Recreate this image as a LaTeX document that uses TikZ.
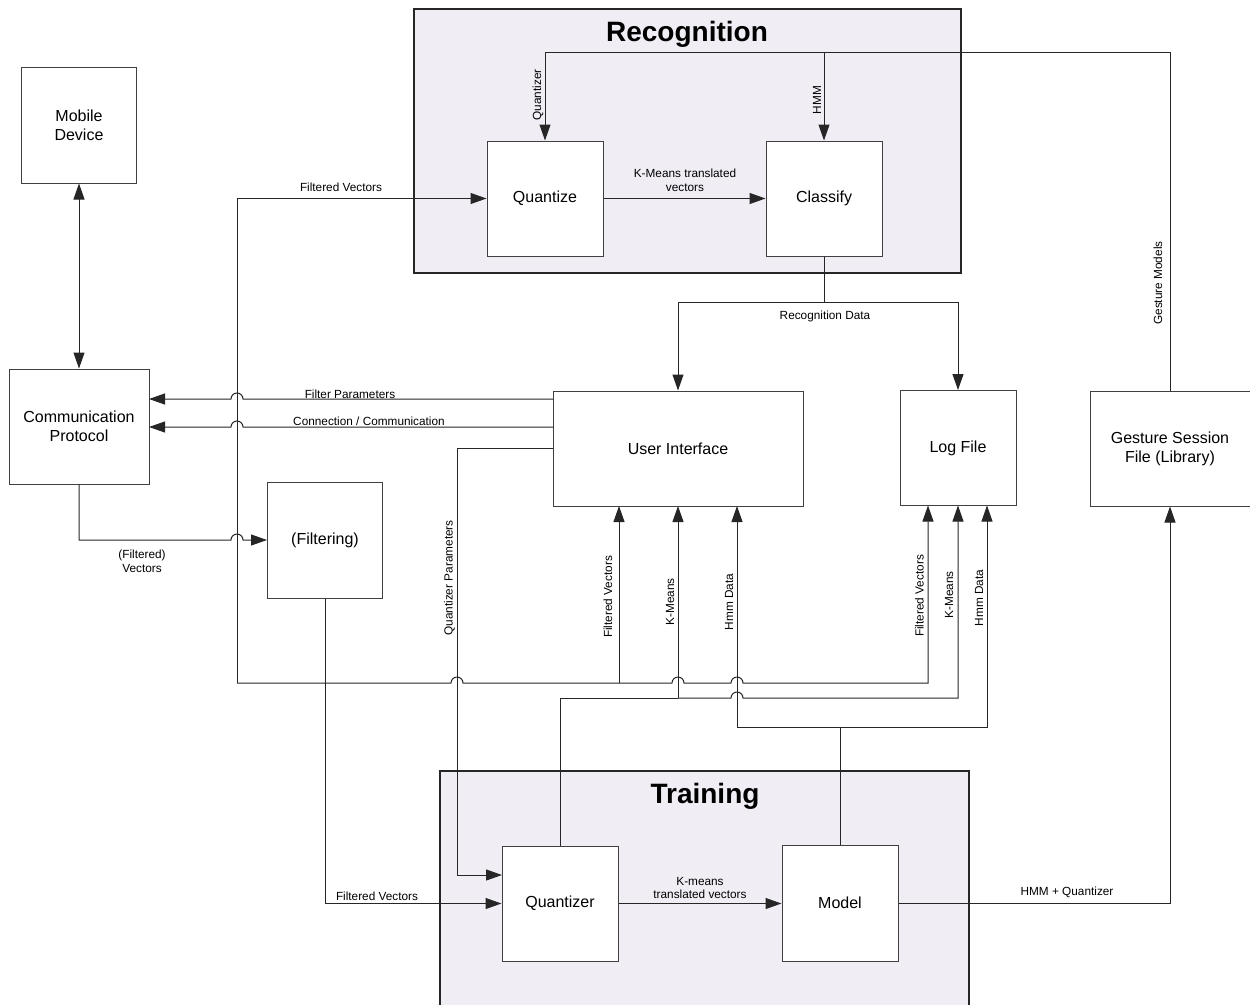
\documentclass[tikz,border=0pt]{standalone}
\usepackage{fontspec}
\setmainfont{Liberation Sans}
\usetikzlibrary{arrows.meta}
\definecolor{contfill}{RGB}{240,238,244}
\begin{document}
\begin{tikzpicture}[x=1pt,y=-1pt,
 box/.style={draw=black!75, line width=1pt, fill=white, rectangle, inner sep=0pt, align=center, font=\fontsize{16}{19}\selectfont},
 cont/.style={draw=black!85, line width=1.3pt, fill=contfill, rectangle, inner sep=0pt},
 ln/.style={draw=black!85, line width=1pt},
 arr/.style={ln, -{Triangle[length=16pt,width=11pt]}},
 darr/.style={ln, {Triangle[length=16pt,width=11pt]}-{Triangle[length=16pt,width=11pt]}},
 lbl/.style={font=\fontsize{11.8}{13.8}\selectfont, align=center, inner sep=0pt},
 ttl/.style={font=\fontsize{28}{32}\selectfont\bfseries, inner sep=0pt}]
\useasboundingbox (0,0) rectangle (1250,1004);
\fill[white] (0,0) rectangle (1250,1004);

% containers
\node[cont, minimum width=547pt, minimum height=264pt] (rec) at (687.5,141) {};
\node[cont, minimum width=529pt, minimum height=239pt] (trn) at (704.5,890.5) {};
\node[ttl] (rectitle) at (687,34) {Recognition};
\node[ttl] (trntitle) at (705,796) {Training};

% boxes
\node[box, minimum width=115pt, minimum height=116pt] (mobile) at (79,125) {Mobile\\Device};
\node[box, minimum width=140pt, minimum height=115pt] (comm) at (79,426.5) {Communication\\Protocol};
\node[box, minimum width=115pt, minimum height=116pt] (filt) at (325,540) {(Filtering)};
\node[box, minimum width=116pt, minimum height=115pt] (quantize) at (545,198.5) {Quantize};
\node[box, minimum width=116pt, minimum height=115pt] (classify) at (824,198.5) {Classify};
\node[box, minimum width=250pt, minimum height=115pt] (ui) at (678,448.5) {User Interface};
\node[box, minimum width=116pt, minimum height=115pt] (log) at (958,448) {Log File};
\node[box, minimum width=160pt, minimum height=115pt] (gesture) at (1170,448.5) {Gesture Session\\File (Library)};
\node[box, minimum width=116pt, minimum height=115pt] (quantizer) at (560,903.5) {Quantizer};
\node[box, minimum width=116pt, minimum height=116pt] (model) at (840,903) {Model};

% coordinates
\coordinate (gtop) at (1170,52);
\coordinate (rd) at (824,302);
\coordinate (bus) at (237,683);
\coordinate (fpR) at (553,399);
\coordinate (ccR) at (553,427);
\coordinate (fpL) at (149,399);
\coordinate (ccL) at (149,427);
\coordinate (qpT) at (553,448);
\coordinate (qpB) at (502,875);
\coordinate (l2) at (560,698);
\coordinate (l2j) at (678,698);
\coordinate (l3) at (840,727);

% Mobile <-> Comm
\draw[darr] (mobile.south) -- (mobile.south |- comm.north);

% Gesture models to recognition
\draw[arr] (gesture.north) -- (gtop) -| (quantize.north);
\draw[arr] (classify.north |- gtop) -- (classify.north);
\node[lbl, rotate=90] (lq) at (538,95) {Quantizer};
\node[lbl, rotate=90] (lh) at (817,100) {HMM};
\node[lbl, rotate=90] (lgm) at (1158,283) {Gesture Models};

% Quantize -> Classify
\draw[arr] (quantize.east) -- (classify.west);
\node[lbl] (lkm) at (685,180) {K-Means translated\\vectors};

% Recognition data
\draw[ln] (classify.south) -- (rd);
\draw[arr] (rd) -| (ui.north);
\draw[arr] (rd) -| (log.north);
\node[lbl] (lrd) at (825,316) {Recognition Data};

% Filter parameters / connection
\draw[arr] (fpR) -- (243,399) arc[start angle=0, end angle=-180, radius=6] -- (fpL);
\draw[arr] (ccR) -- (243,427) arc[start angle=0, end angle=-180, radius=6] -- (ccL);
\node[lbl] (lfp) at (350,394) {Filter Parameters};
\node[lbl] (lcc) at (369,421) {Connection / Communication};

% Comm -> Filtering
\draw[arr] (comm.south) -- (79,540) -- (231,540) arc[start angle=180, end angle=360, radius=6] -- (filt.west);
\node[lbl] (lfv1) at (142,561) {(Filtered)\\Vectors};

% Bus of filtered vectors
\draw[arr] (bus) |- (quantize.west);
\node[lbl] (lfv2) at (341,187) {Filtered Vectors};
\draw[arr] (bus) -- (451,683) arc[start angle=180, end angle=360, radius=6]
  -- (672,683) arc[start angle=180, end angle=360, radius=6]
  -- (731,683) arc[start angle=180, end angle=360, radius=6]
  -- (928,683) -- (928,505.5);
\draw[arr] (619,683) -- (619,506);

% Quantizer parameters
\draw[arr] (qpT) -- (457,448) -- (457,875) -- (qpB);
\node[lbl, rotate=90] (lqp) at (449.5,578) {Quantizer Parameters};

% K-Means line
\draw[ln] (quantizer.north) -- (l2) -- (l2j);
\draw[arr] (l2j) -- (678,506);
\draw[arr] (l2j) -- (731,698) arc[start angle=180, end angle=360, radius=6] -- (958,698) -- (958,505.5);

% Hmm data line
\draw[ln] (model.north) -- (l3);
\draw[arr] (l3) -- (737,727) -- (737,506);
\draw[arr] (l3) -- (987,727) -- (987,505.5);

% vertical labels
\node[lbl, rotate=90] (u1) at (608,597) {Filtered Vectors};
\node[lbl, rotate=90] (u2) at (670,602) {K-Means};
\node[lbl, rotate=90] (u3) at (729,602) {Hmm Data};
\node[lbl, rotate=90] (g1) at (919.5,596) {Filtered Vectors};
\node[lbl, rotate=90] (g2) at (949,595) {K-Means};
\node[lbl, rotate=90] (g3) at (979,598) {Hmm Data};

% Filtering -> Quantizer
\draw[arr] (filt.south) -- (325,903.5) -- (quantizer.west);
\node[lbl] (lfv3) at (377,896) {Filtered Vectors};

% Quantizer -> Model
\draw[arr] (quantizer.east) -- (quantizer.east -| model.west);
\node[lbl] (lkm2) at (700,888) {K-means\\translated vectors};

% Model -> Gesture
\draw[arr] (model.east) -| (gesture.south);
\node[lbl] (lhq) at (1067,892) {HMM + Quantizer};

\end{tikzpicture}
\end{document}
